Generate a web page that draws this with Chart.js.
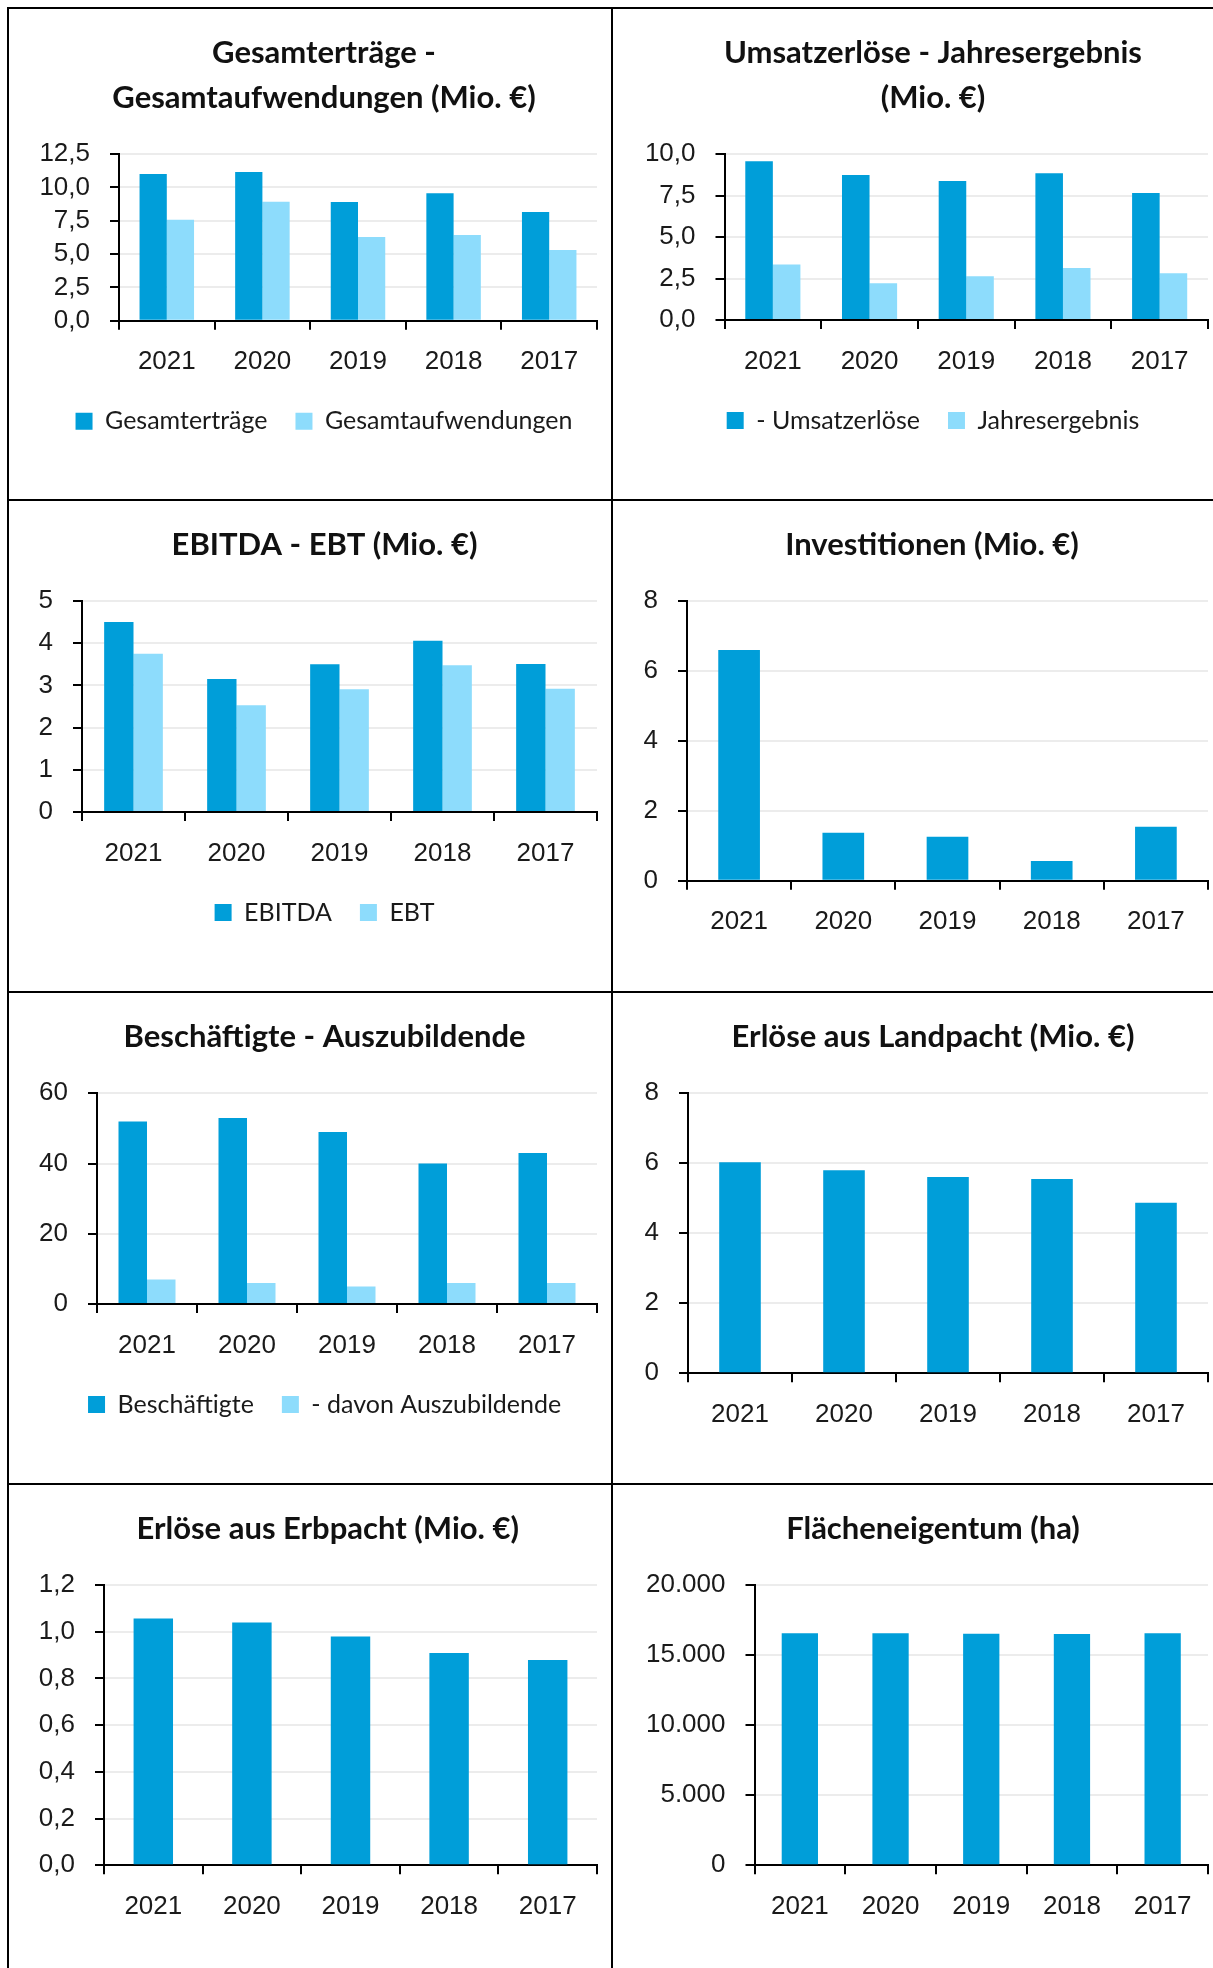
<!DOCTYPE html>
<html><head><meta charset="utf-8">
<script src="https://cdn.jsdelivr.net/npm/chart.js@4.4.1/dist/chart.umd.min.js"></script>
<style>
html,body{margin:0;padding:0;background:#fff;}
#wrap{position:relative;width:1213px;height:1968px;overflow:hidden;background:#fff;}
.ln{position:absolute;background:#000;z-index:5;}
</style></head><body>
<div id="wrap">
  <div class="ln" style="left:7px;top:7px;width:1206px;height:2px"></div>
  <div class="ln" style="left:7px;top:7px;width:2px;height:1961px"></div>
  <div class="ln" style="left:611px;top:7px;width:2px;height:1961px"></div>
  <div class="ln" style="left:7px;top:499px;width:1206px;height:2px"></div>
  <div class="ln" style="left:7px;top:991px;width:1206px;height:2px"></div>
  <div class="ln" style="left:7px;top:1483px;width:1206px;height:2px"></div>
</div>
<script>
// ---- data ----
const years = ['2021', '2020', '2019', '2018', '2017'];
const gesamtertraege = [11.0, 11.15, 8.9, 9.55, 8.15];
const gesamtaufwendungen = [7.57, 8.92, 6.28, 6.43, 5.3];
const umsatzerloese = [9.56, 8.73, 8.37, 8.84, 7.65];
const jahresergebnis = [3.35, 2.21, 2.63, 3.13, 2.81];
const ebitda = [4.5, 3.15, 3.5, 4.06, 3.51];
const ebt = [3.75, 2.53, 2.91, 3.48, 2.92];
const investitionen = [6.6, 1.37, 1.26, 0.56, 1.54];
const beschaeftigte = [52, 53, 49, 40, 43];
const auszubildende = [7, 6, 5, 6, 6];
const landpacht = [6.03, 5.8, 5.61, 5.55, 4.87];
const erbpacht = [1.057, 1.039, 0.979, 0.909, 0.879];
const flaeche = [16560, 16560, 16530, 16510, 16560];

const ticks12_5 = ['0,0', '2,5', '5,0', '7,5', '10,0', '12,5'];
const ticks10 = ['0,0', '2,5', '5,0', '7,5', '10,0'];
const ticks5 = ['0', '1', '2', '3', '4', '5'];
const ticks8 = ['0', '2', '4', '6', '8'];
const ticks60 = ['0', '20', '40', '60'];
const ticks1_2 = ['0,0', '0,2', '0,4', '0,6', '0,8', '1,0', '1,2'];
const ticks20000 = ['0', '5.000', '10.000', '15.000', '20.000'];

// ---- style / layout ----
const DARK = '#009ED9';
const LIGHT = '#8DDCFC';
const TEXT = '#1a1a1a';
const TITLE_LH = 45, TITLE_FIRST = 45, TITLE_SIZE = 31;
const LEG_FONT = 25, LEG_PAD = 28;
const TICK_FONT = {family: 'Liberation Sans', size: 26};

const layouts = {
  c1: {panel: [8, 8, 603, 492], plot: [119, 597, 154, 320.7], titleX: 324},
  c2: {panel: [612, 8, 601, 492], plot: [724.5, 1208, 154, 320], titleX: 933},
  c3: {panel: [8, 500, 603, 492], plot: [82, 597, 601, 812], titleX: 324.5},
  c4: {panel: [612, 500, 601, 492], plot: [687, 1208, 601, 880.7], titleX: 932},
  c5: {panel: [8, 992, 603, 492], plot: [97, 597, 1093.3, 1304], titleX: 324.6},
  c6: {panel: [612, 992, 601, 492], plot: [688, 1208, 1093.3, 1373.3], titleX: 933},
  c7: {panel: [8, 1484, 603, 484], plot: [104, 597, 1585, 1865.3], titleX: 327.7},
  c8: {panel: [612, 1484, 601, 484], plot: [754.5, 1208, 1585, 1865.3], titleX: 933}
};

function buildChart(id, cfg) {
  const lay = layouts[id];
  const [px, py, pw, ph] = lay.panel;
  const L = lay.plot[0] - px, R = lay.plot[1] - px, T = lay.plot[2] - py, B = lay.plot[3] - py;
  const tx = lay.titleX - px;
  const fullRight = 2 * tx;              // full-size boxes span [0, 2*tx] so title/legend centre on tx
  const CW = Math.max(pw, Math.ceil(fullRight));
  const padR = CW - fullRight;
  const rightW = fullRight - R;          // spacer on the right of the plot
  const yW = L;
  const cv = document.createElement('canvas');
  cv.width = CW; cv.height = ph;
  cv.style.cssText = 'position:absolute;left:' + px + 'px;top:' + py + 'px;width:' + CW + 'px;height:' + ph + 'px;z-index:2;';
  document.getElementById('wrap').appendChild(cv);
  const nLines = cfg.title.length;
  const tpTop = TITLE_FIRST - TITLE_LH / 2;
  const tpBottom = T - tpTop - nLines * TITLE_LH;
  const hasLegend = cfg.datasets.length > 1;
  const xH = 60;
  const legendH = hasLegend ? (LEG_FONT + LEG_PAD + 10) : 0;
  const padB = ph - B - xH - legendH;
  return new Chart(cv, {
    type: 'bar',
    data: {
      labels: cfg.labels,
      datasets: cfg.datasets.map((d, i) => ({
        label: d.label, data: d.data,
        backgroundColor: i === 0 ? DARK : LIGHT,
        borderWidth: 0,
        categoryPercentage: hasLegend ? 0.57 : 0.40,
        barPercentage: 1,
        yAxisID: 'y'
      }))
    },
    options: {
      responsive: false, animation: false, devicePixelRatio: 1,
      layout: {padding: {left: 0, right: padR, top: 0, bottom: padB}},
      plugins: {
        title: {display: true, text: cfg.title, color: '#111',
          font: {family: 'Lato', weight: 'bold', size: TITLE_SIZE, lineHeight: TITLE_LH / TITLE_SIZE},
          padding: {top: tpTop, bottom: tpBottom}},
        legend: {display: hasLegend, position: 'bottom',
          labels: {boxWidth: 17, boxHeight: 17, padding: LEG_PAD, color: TEXT, font: {family: 'Lato', size: LEG_FONT}}},
        tooltip: {enabled: false}
      },
      scales: {
        x: {
          grid: {display: true, drawOnChartArea: false, drawTicks: true, tickLength: 9, color: '#000', lineWidth: 2, offset: true},
          border: {display: true, color: '#000', width: 2},
          ticks: {color: TEXT, font: TICK_FONT, padding: 17, maxRotation: 0, autoSkip: false},
          afterFit: s => { s.height = xH; }
        },
        y: {
          position: 'left',
          min: 0, max: cfg.max,
          ticks: {stepSize: cfg.step, autoSkip: false, color: TEXT, font: TICK_FONT, padding: 20, callback: (v, i) => cfg.ticks[i]},
          grid: {color: c => (c.tick && c.tick.value === 0) ? '#000' : '#ececec', lineWidth: 2, tickColor: '#000', tickLength: 9, drawTicks: true},
          border: {color: '#000', width: 2},
          afterFit: s => { s.width = yW; }
        },
        spacer: {
          type: 'linear', position: 'right', display: true,
          ticks: {display: false}, grid: {display: false, drawTicks: false}, border: {display: false},
          afterFit: s => { s.width = rightW; }
        }
      }
    }
  });
}

buildChart('c1', {title: ['Gesamterträge -', 'Gesamtaufwendungen (Mio. €)'], labels: years,
  datasets: [{label: 'Gesamterträge', data: gesamtertraege}, {label: 'Gesamtaufwendungen', data: gesamtaufwendungen}],
  max: 12.5, step: 2.5, ticks: ticks12_5});
buildChart('c2', {title: ['Umsatzerlöse - Jahresergebnis', '(Mio. €)'], labels: years,
  datasets: [{label: '- Umsatzerlöse', data: umsatzerloese}, {label: 'Jahresergebnis', data: jahresergebnis}],
  max: 10, step: 2.5, ticks: ticks10});
buildChart('c3', {title: ['EBITDA - EBT (Mio. €)'], labels: years,
  datasets: [{label: 'EBITDA', data: ebitda}, {label: 'EBT', data: ebt}],
  max: 5, step: 1, ticks: ticks5});
buildChart('c4', {title: ['Investitionen (Mio. €)'], labels: years,
  datasets: [{label: 'Investitionen', data: investitionen}],
  max: 8, step: 2, ticks: ticks8});
buildChart('c5', {title: ['Beschäftigte - Auszubildende'], labels: years,
  datasets: [{label: 'Beschäftigte', data: beschaeftigte}, {label: '- davon Auszubildende', data: auszubildende}],
  max: 60, step: 20, ticks: ticks60});
buildChart('c6', {title: ['Erlöse aus Landpacht (Mio. €)'], labels: years,
  datasets: [{label: 'Landpacht', data: landpacht}],
  max: 8, step: 2, ticks: ticks8});
buildChart('c7', {title: ['Erlöse aus Erbpacht (Mio. €)'], labels: years,
  datasets: [{label: 'Erbpacht', data: erbpacht}],
  max: 1.2, step: 0.2, ticks: ticks1_2});
buildChart('c8', {title: ['Flächeneigentum (ha)'], labels: years,
  datasets: [{label: 'Flächeneigentum', data: flaeche}],
  max: 20000, step: 5000, ticks: ticks20000});
</script>
</body></html>
